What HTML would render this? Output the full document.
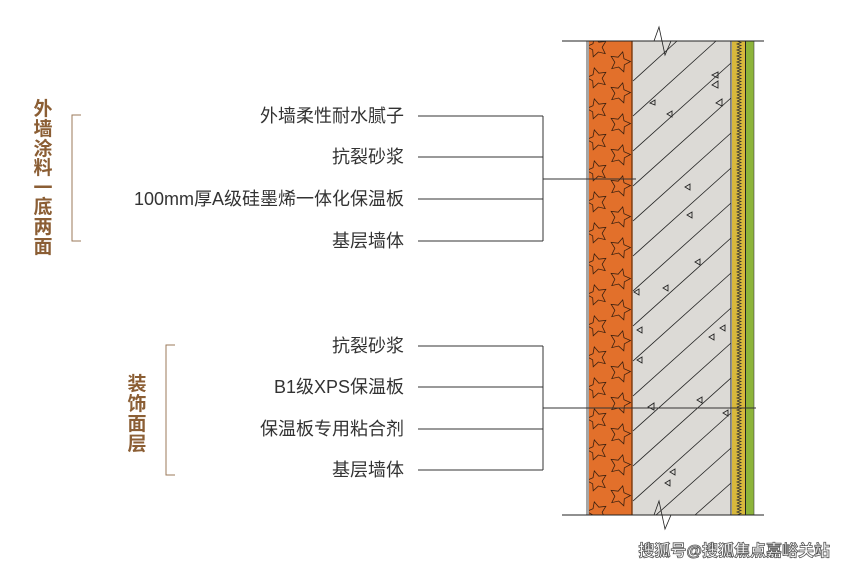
<!DOCTYPE html>
<html><head><meta charset="utf-8"><style>
html,body{margin:0;padding:0;background:#fff;width:845px;height:569px;overflow:hidden;}
svg{display:block;}
svg text{font-family:"Liberation Sans","Noto Sans CJK SC",sans-serif;}
</style></head><body>
<svg width="845" height="569" viewBox="0 0 845 569" xmlns="http://www.w3.org/2000/svg">
<defs>
<polygon id="star" points="0,-10.5 3,-4.2 10,-3.2 4.9,1.6 6.2,8.5 0,5.2 -6.2,8.5 -4.9,1.6 -10,-3.2 -3,-4.2"/>
<pattern id="stars" x="589" y="41" width="44" height="31" patternUnits="userSpaceOnUse">
  <g fill="none" stroke="#3a1f0e" stroke-width="0.8">
    <use href="#star" transform="translate(8,6) rotate(-15)"/>
    <use href="#star" transform="translate(8,37) rotate(-15)"/>
    <use href="#star" transform="translate(31,21) rotate(15)"/>
    <use href="#star" transform="translate(31,-10) rotate(15)"/>
  </g>
</pattern>
<pattern id="zig" x="732" y="41" width="14" height="6" patternUnits="userSpaceOnUse">
  <polyline points="5,0 9,1.5 5,3 9,4.5 5,6" fill="none" stroke="#333" stroke-width="0.8"/>
</pattern>
</defs>
<rect x="587" y="41" width="2" height="474" fill="#fff" stroke="#222" stroke-width="0.8"/>
<rect x="589" y="41" width="43" height="474" fill="#E2702B"/>
<rect x="589" y="41" width="43" height="474" fill="url(#stars)"/>
<line x1="632" y1="41" x2="632" y2="515" stroke="#7a3a10" stroke-width="1.5"/>
<rect x="633" y="41" width="98" height="474" fill="#DCDAD6"/>
<g stroke="#222" stroke-width="0.8">
<line x1="633" y1="81" x2="677" y2="41"/>
<line x1="633" y1="116" x2="716" y2="41"/>
<line x1="633" y1="151" x2="731" y2="63"/>
<line x1="633" y1="186" x2="731" y2="98"/>
<line x1="633" y1="221" x2="731" y2="133"/>
<line x1="633" y1="256" x2="731" y2="168"/>
<line x1="633" y1="291" x2="731" y2="203"/>
<line x1="633" y1="326" x2="731" y2="238"/>
<line x1="633" y1="361" x2="731" y2="273"/>
<line x1="633" y1="396" x2="731" y2="308"/>
<line x1="633" y1="431" x2="731" y2="343"/>
<line x1="633" y1="466" x2="731" y2="378"/>
<line x1="633" y1="501" x2="731" y2="413"/>
<line x1="656" y1="515" x2="731" y2="448"/>
<line x1="695" y1="515" x2="731" y2="483"/>
</g>
<g fill="none" stroke="#222" stroke-width="0.9">
<path d="M712,75 l6,-3 0,6z"/><path d="M712,85 l6,-4 0,7z"/><path d="M716,103 l6,-4 0,7z"/><path d="M650,103 l5,-3 0,5z"/><path d="M667,114 l5,-3 0,6z"/>
<path d="M685,187 l5,-3 0,6z"/><path d="M687,215 l5,-3 0,6z"/><path d="M695,262 l5,-3 0,6z"/><path d="M663,288 l5,-3 0,6z"/>
<path d="M634,292 l5,3 0,-6z"/><path d="M637,330 l5,-3 0,6z"/><path d="M709,337 l5,-3 0,6z"/><path d="M720,328 l5,-3 0,6z"/>
<path d="M637,360 l5,-3 0,6z"/><path d="M648,407 l6,-4 0,7z"/><path d="M697,400 l5,-3 0,6z"/><path d="M723,413 l5,-3 0,6z"/>
<path d="M670,472 l5,-3 0,6z"/><path d="M665,483 l5,-3 0,6z"/>
</g>
<line x1="731" y1="41" x2="731" y2="515" stroke="#222" stroke-width="1"/>
<rect x="732" y="41" width="13" height="474" fill="#D8B83C"/>
<rect x="732" y="41" width="13" height="474" fill="url(#zig)"/>
<line x1="745.5" y1="41" x2="745.5" y2="515" stroke="#222" stroke-width="1"/>
<rect x="746" y="41" width="8" height="474" fill="#8DB43A"/>
<line x1="754" y1="41" x2="754" y2="515" stroke="#444" stroke-width="0.6"/>
<line x1="562" y1="41" x2="764" y2="41" stroke="#222" stroke-width="1"/>
<line x1="562" y1="515" x2="764" y2="515" stroke="#222" stroke-width="1"/>
<polyline points="654,41 659,27 665,55 671,41" fill="none" stroke="#222" stroke-width="0.8"/>
<polyline points="654,515 659,501 665,529 671,515" fill="none" stroke="#222" stroke-width="0.8"/>
<g stroke="#333" stroke-width="1" fill="none">
<line x1="418" y1="116" x2="543" y2="116"/><line x1="418" y1="157" x2="543" y2="157"/>
<line x1="418" y1="199" x2="543" y2="199"/><line x1="418" y1="241" x2="543" y2="241"/>
<line x1="543" y1="116" x2="543" y2="241"/><line x1="543" y1="179" x2="636" y2="179"/>
<line x1="418" y1="346" x2="543" y2="346"/><line x1="418" y1="387" x2="543" y2="387"/>
<line x1="418" y1="429" x2="543" y2="429"/><line x1="418" y1="470" x2="543" y2="470"/>
<line x1="543" y1="346" x2="543" y2="470"/><line x1="543" y1="408" x2="756" y2="408"/>
</g>
<g font-size="18" fill="#333" text-anchor="end">
<text x="404" y="122">外墙柔性耐水腻子</text>
<text x="404" y="163">抗裂砂浆</text>
<text x="404" y="205">100mm厚A级硅墨烯一体化保温板</text>
<text x="404" y="247">基层墙体</text>
<text x="404" y="352">抗裂砂浆</text>
<text x="404" y="393">B1级XPS保温板</text>
<text x="404" y="435">保温板专用粘合剂</text>
<text x="404" y="476">基层墙体</text>
</g>
<g stroke="#9b7a5a" stroke-width="1" fill="none">
<polyline points="81,115 72,115 72,241 81,241"/>
<polyline points="175,345 166,345 166,475 175,475"/>
</g>
<g font-size="19" font-weight="bold" fill="#8B5E34" text-anchor="middle">
<text x="43" y="115">外</text><text x="43" y="135">墙</text><text x="43" y="155">涂</text><text x="43" y="174">料</text>
<text x="43" y="194">一</text><text x="43" y="213">底</text><text x="43" y="233">两</text><text x="43" y="253">面</text>
<text x="137" y="390">装</text><text x="137" y="410">饰</text><text x="137" y="430">面</text><text x="137" y="450">层</text>
</g>
<text x="830" y="556" font-size="16" font-weight="bold" fill="#fff" stroke="#555" stroke-width="0.8" text-anchor="end">搜狐号@搜狐焦点嘉峪关站</text>
</svg>
</body></html>
